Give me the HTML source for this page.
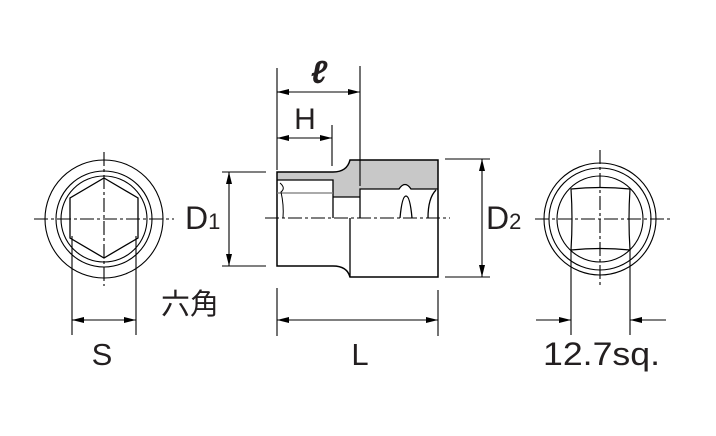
<!DOCTYPE html>
<html><head><meta charset="utf-8"><style>
html,body{margin:0;padding:0;background:#fff;}
svg{display:block;}
text{font-family:"Liberation Sans","Noto Sans CJK JP",sans-serif;fill:#231f20;}
</style></head><body>
<svg width="716" height="436" viewBox="0 0 716 436" xmlns="http://www.w3.org/2000/svg">
<defs>
<marker id="a" viewBox="0 0 12 6" refX="12" refY="3" markerWidth="12" markerHeight="6" markerUnits="userSpaceOnUse" orient="auto"><path d="M0,0 L12,3 L0,6 Z" fill="#000"/></marker>
</defs>
<g stroke="#000" stroke-width="1.1" fill="none">
<circle cx="104" cy="219" r="59"/>
<circle cx="104" cy="219" r="48"/>
<circle cx="104" cy="219" r="43"/>
<path d="M104,178 L138,198 L138,238 L104,258 L70,238 L70,198 Z" stroke-width="1.3"/>
<line x1="34" y1="219" x2="174" y2="219" stroke-dasharray="14,3,3,3"/>
<line x1="104" y1="152" x2="104" y2="286" stroke-dasharray="14,3,3,3"/>
<line x1="72" y1="236" x2="72" y2="335"/>
<line x1="136" y1="236" x2="136" y2="335"/>
<line x1="85" y1="320" x2="72" y2="320" marker-end="url(#a)"/>
<line x1="110" y1="320" x2="136" y2="320" marker-end="url(#a)"/>
<line x1="85" y1="320" x2="110" y2="320"/>

<circle cx="600" cy="219" r="56"/>
<circle cx="600" cy="219" r="51"/>
<circle cx="600" cy="219" r="43"/>
<path d="M571,189 Q600,186 630,189 Q628,219 630,250 Q600,247 571,250 Q573,219 571,189 Z" stroke-width="1.2"/>
<line x1="535" y1="219" x2="672" y2="219" stroke-dasharray="14,3,3,3"/>
<line x1="600" y1="150" x2="600" y2="285" stroke-dasharray="14,3,3,3"/>
<line x1="571" y1="250" x2="571" y2="335"/>
<line x1="630" y1="250" x2="630" y2="335"/>
<line x1="536" y1="320" x2="571" y2="320" marker-end="url(#a)"/>
<line x1="666" y1="320" x2="630" y2="320" marker-end="url(#a)"/>

<path d="M277,172 L333,172 Q347,172 350,160 L438,160 L438,189 L411,189 Q406,180 399,189 L360,189 L360,197 L333,197 L333,180 L277,180 Z" fill="#c8c8c8" stroke="none"/>
<path d="M277,172 L333,172 Q347,172 350,160 L438,160 L438,277 L350,277 Q347,266 333,266 L277,266 Z" stroke-width="1.5"/>
<path d="M277,180 L333,180 L333,218" stroke-width="1.3"/>
<line x1="277" y1="193" x2="333" y2="193" stroke="#777" stroke-width="1.3"/>
<path d="M333,197 L360,197" stroke-width="1.3"/>
<path d="M360,218 L360,189 L399,189 Q405,180 411,189 L438,189" stroke-width="1.3"/>
<line x1="350" y1="218" x2="350" y2="277" stroke-width="1.3"/>
<path d="M400,218 Q402,196 406,196 Q410,196 412,218" stroke-width="1.3"/>
<path d="M428,218 Q428,198 436,190" stroke-width="1.3"/>
<path d="M280,183 Q286,188 281,192 Q284,205 283,218" stroke-width="1"/>
<line x1="265" y1="218" x2="450" y2="218" stroke-dasharray="14,3,3,3"/>

<line x1="277" y1="68" x2="277" y2="170"/>
<line x1="360" y1="66" x2="360" y2="186"/>
<line x1="332" y1="125" x2="332" y2="166"/>
<line x1="290" y1="92" x2="277" y2="92" marker-end="url(#a)"/>
<line x1="340" y1="92" x2="360" y2="92" marker-end="url(#a)"/>
<line x1="290" y1="92" x2="340" y2="92"/>
<line x1="295" y1="138" x2="277" y2="138" marker-end="url(#a)"/>
<line x1="315" y1="138" x2="332" y2="138" marker-end="url(#a)"/>
<line x1="295" y1="138" x2="315" y2="138"/>

<line x1="222" y1="172" x2="266" y2="172"/>
<line x1="222" y1="266" x2="266" y2="266"/>
<line x1="229" y1="200" x2="229" y2="172" marker-end="url(#a)"/>
<line x1="229" y1="240" x2="229" y2="266" marker-end="url(#a)"/>
<line x1="229" y1="200" x2="229" y2="240"/>

<line x1="445" y1="159" x2="490" y2="159"/>
<line x1="445" y1="277" x2="490" y2="277"/>
<line x1="482" y1="200" x2="482" y2="159" marker-end="url(#a)"/>
<line x1="482" y1="240" x2="482" y2="277" marker-end="url(#a)"/>
<line x1="482" y1="200" x2="482" y2="240"/>

<line x1="277" y1="288" x2="277" y2="336"/>
<line x1="438" y1="290" x2="438" y2="336"/>
<line x1="320" y1="320" x2="277" y2="320" marker-end="url(#a)"/>
<line x1="400" y1="320" x2="438" y2="320" marker-end="url(#a)"/>
<line x1="320" y1="320" x2="400" y2="320"/>
</g>

<text x="319" y="83" font-size="32" font-style="italic" font-weight="bold" font-family="Liberation Serif,serif" text-anchor="middle">ℓ</text>
<text x="305" y="129" font-size="30" text-anchor="middle">H</text>
<text x="185" y="229" font-size="32">D<tspan font-size="22">1</tspan></text>
<text x="486" y="229" font-size="32">D<tspan font-size="22">2</tspan></text>
<text x="161" y="314" font-size="29">六角</text>
<text x="102" y="365" font-size="31" text-anchor="middle">S</text>
<text x="360" y="365" font-size="31" text-anchor="middle">L</text>
<text x="543" y="365" font-size="32" textLength="117" lengthAdjust="spacingAndGlyphs">12.7sq.</text>
</svg>
</body></html>
